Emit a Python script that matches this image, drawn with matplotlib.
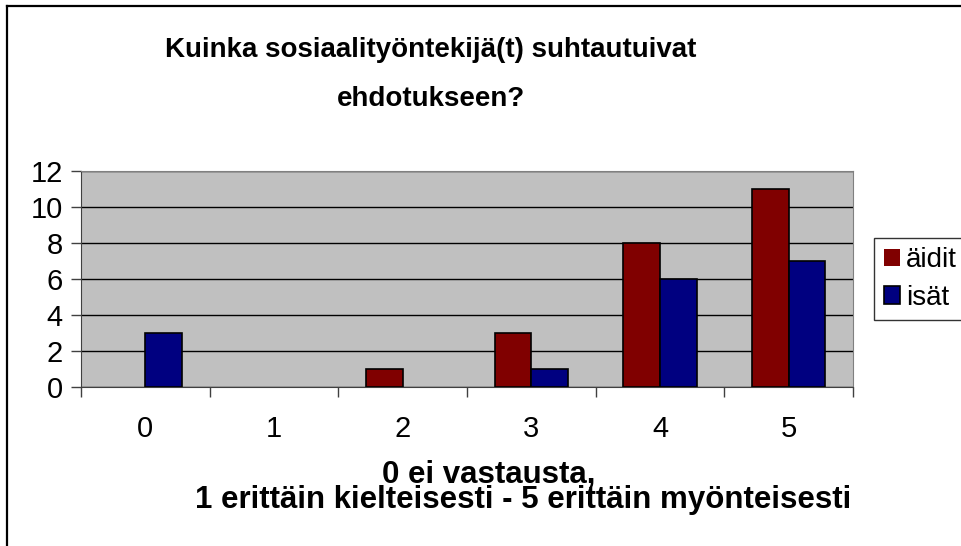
#! /usr/bin/env python3
import matplotlib
matplotlib.use('Agg')
import matplotlib.pyplot as plt
from matplotlib.lines import Line2D
import numpy as np

plt.rcParams['font.family'] = ['Liberation Sans', 'DejaVu Sans']

categories = ['0', '1', '2', '3', '4', '5']
aidit = [0, 0, 1, 3, 8, 11]
isat = [3, 0, 0, 1, 6, 7]
series_names = ['äidit', 'isät']
title_lines = ['Kuinka sosiaalityöntekijä(t) suhtautuivat', 'ehdotukseen?']
xlabel_text = '0 ei vastausta,        \n1 erittäin kielteisesti - 5 erittäin myönteisesti'

W, H = 962, 546
fig = plt.figure(figsize=(W / 100, H / 100), dpi=100)

# plot area in pixels
left, right, top, bottom = 81, 853, 171, 387
ax = fig.add_axes([left / W, 1 - bottom / H, (right - left) / W, (bottom - top) / H])
ax.set_facecolor('#c0c0c0')

x = np.arange(len(categories))
w = 1 / 3.5
# zero-height bars get no outline (Excel draws nothing there)
lw_a = [1.2 if v else 0 for v in aidit]
lw_i = [1.2 if v else 0 for v in isat]
ax.bar(x - w / 2, aidit, w, color='#800000', edgecolor='black', linewidth=lw_a,
       label=series_names[0], zorder=3)
ax.bar(x + w / 2, isat, w, color='#000080', edgecolor='black', linewidth=lw_i,
       label=series_names[1], zorder=3)

ax.set_xlim(-0.5, len(categories) - 0.5)
ax.set_ylim(0, 12)
ax.set_yticks(range(0, 13, 2))
ax.yaxis.grid(True, color='black', linewidth=1.0, zorder=1)
ax.set_axisbelow(True)

ax.set_xticks(x)
ax.set_xticklabels(categories)
ax.set_xticks(np.arange(-0.5, len(categories)), minor=True)
ax.tick_params(axis='x', which='major', length=0, pad=20, labelsize=21)
ax.tick_params(axis='x', which='minor', length=7, width=1, color='#404040', direction='out')
ax.tick_params(axis='y', length=7, width=1, color='#404040', direction='out',
               pad=6, labelsize=21)

for s in ['top', 'right']:
    ax.spines[s].set_color('#808080')
for s in ['left', 'bottom']:
    ax.spines[s].set_color('#404040')

# title
fig.text(431 / W, 1 - 57 / H, title_lines[0], ha='center', va='baseline',
         fontsize=20, fontweight='bold')
fig.text(431 / W, 1 - 106 / H, title_lines[1], ha='center', va='baseline',
         fontsize=20, fontweight='bold')

# axis title
fig.text(523 / W, 1 - 508 / H, xlabel_text, ha='center', va='baseline',
         multialignment='center', linespacing=0.8,
         fontsize=22.5, fontweight='bold')

# legend
leg = fig.legend(loc='center left', bbox_to_anchor=(874 / W, 1 - 279 / H),
                 fontsize=20, frameon=True, fancybox=False, edgecolor='black',
                 handlelength=0.6, handleheight=0.6, handletextpad=0.2,
                 borderpad=0.35, labelspacing=0.4, borderaxespad=0)
leg.get_frame().set_linewidth(1)

# chart border (only left and top edges visible)
fig.add_artist(Line2D([7 / W, 7 / W], [0, 1 - 6 / H], color='black', linewidth=1.6))
fig.add_artist(Line2D([7 / W, 1], [1 - 6 / H, 1 - 6 / H], color='black', linewidth=1.6))

fig.savefig('out.png', dpi=100)
